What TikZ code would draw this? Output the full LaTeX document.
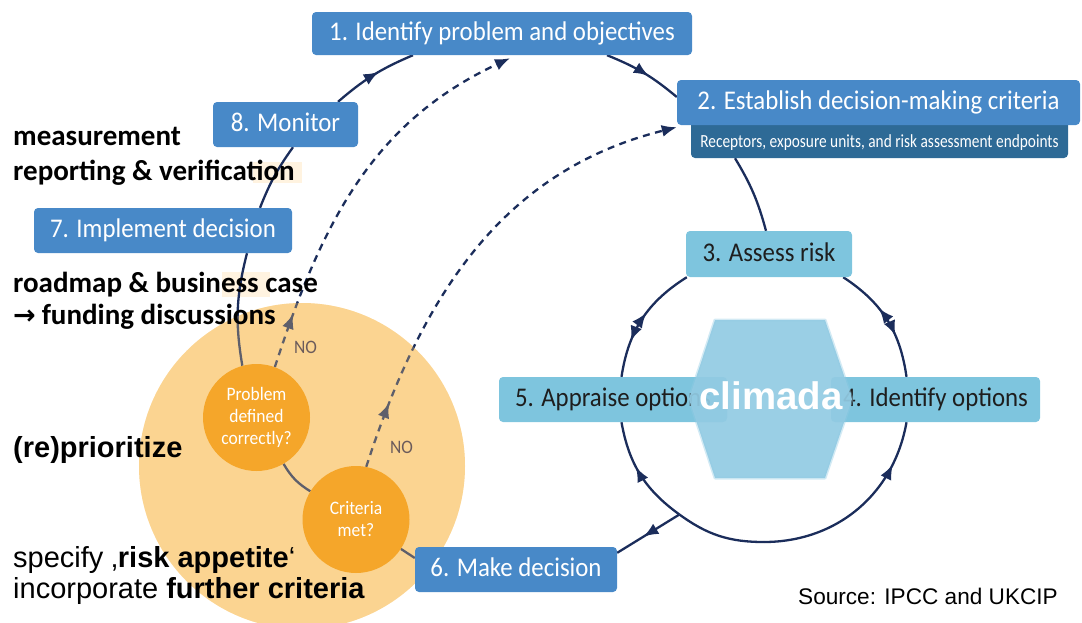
\documentclass[tikz,border=0pt]{standalone}
\usepackage{fontspec}
\setmainfont{Liberation Sans}
\newfontfamily\boxf[FakeStretch=0.92]{Carlito}
\newfontfamily\subf[FakeStretch=0.83]{Carlito}
\newfontfamily\calib{Carlito}
\newfontfamily\dejavu{DejaVu Sans}
\usetikzlibrary{arrows.meta,decorations.markings}
\pgfdeclarelayer{bg}
\pgfdeclarelayer{lines}
\pgfsetlayers{bg,lines,main}
\definecolor{boxblue}{HTML}{4889C8}
\definecolor{subblue}{HTML}{2E6A96}
\definecolor{lightblue}{HTML}{7EC5DE}
\definecolor{hexblue}{HTML}{92CBE3}
\definecolor{navy}{HTML}{1B2D5B}
\definecolor{orangepale}{HTML}{FBD491}
\definecolor{orangedark}{HTML}{F5A62A}
\definecolor{nocol}{HTML}{6B5B5B}
\definecolor{hlcol}{HTML}{FFF3E0}
\definecolor{darktext}{HTML}{1E1E1E}
\tikzset{
  >={Latex[length=15pt,width=12pt]},
  basebox/.style={draw=none, rounded corners=4pt, inner sep=0pt,
    font=\boxf\fontsize{27}{30}\selectfont, text height=19pt, text depth=5pt},
  bluebox/.style={basebox, fill=boxblue, text=white},
  lightbox/.style={basebox, fill=lightblue, text=darktext},
  subbox/.style={draw=none, rounded corners=4pt, inner sep=0pt, fill=subblue, text=white,
    font=\subf\fontsize{18.5}{20}\selectfont, text height=24pt, text depth=5pt},
  qcircle/.style={circle, fill=orangedark, text=white, inner sep=0pt, minimum size=107pt,
    align=center, font=\boxf\fontsize{19}{22}\selectfont},
  nolabel/.style={text=nocol, inner sep=0pt, font=\boxf\fontsize{19}{22}\selectfont},
  lefttext/.style={anchor=base west, inner sep=0pt, text=black},
  navyline/.style={draw=navy, line width=2.3pt},
  dashline/.style={navyline, dash pattern=on 7pt off 5.5pt},
  midarrow/.style={postaction={decorate, decoration={markings,
    mark=at position #1 with {\arrow{>}}}}},
  twoarrows/.style 2 args={postaction={decorate, decoration={markings,
    mark=at position #1 with {\arrowreversed{>}},
    mark=at position #2 with {\arrow{>}}}}}
}
\begin{document}
\begin{tikzpicture}[x=1pt,y=1pt]
\useasboundingbox (0,0) rectangle (1082,-622);

% orange overlay (tints the lines beneath it)
\fill[orangepale, opacity=0.3] (302,-466) circle (163);

% boxes of the outer cycle
\node[subbox, minimum width=377pt, minimum height=40pt] (sub) at (879.5,-138)
  {Receptors, exposure units, and risk assessment endpoints};
\node[bluebox, minimum width=380pt, minimum height=43pt] (box1) at (502,-33.5)
  {1. Identify problem and objectives};
\node[bluebox, minimum width=403pt, minimum height=45pt] (box2) at (878.5,-102.5)
  {2. Establish decision-making criteria};
\node[bluebox, minimum width=145pt, minimum height=45pt] (box8) at (285.5,-124.5)
  {8. Monitor};
\node[bluebox, minimum width=258pt, minimum height=45pt] (box7) at (163,-230.5)
  {7. Implement decision};
\node[bluebox, minimum width=202pt, minimum height=45pt] (box6) at (516,-569.5)
  {6. Make decision};

% inner loop boxes
\node[lightbox, minimum width=166pt, minimum height=46pt] (box3) at (769,-254)
  {3. Assess risk};
\node[lightbox, minimum width=228pt, minimum height=45pt] (box5) at (613,-399.5)
  {5. Appraise options};
\node[lightbox, minimum width=209pt, minimum height=45pt] (box4) at (935.5,-399.5)
  {4. Identify options};

% hexagon and climada
\draw[hexblue, line width=3pt, opacity=0.4, line join=round]
  (715,-320) -- (825,-320) -- (852,-399) -- (825,-478) -- (715,-478) -- (689,-399) -- cycle;
\fill[hexblue, fill opacity=0.93]
  (715,-320) -- (825,-320) -- (852,-399) -- (825,-478) -- (715,-478) -- (689,-399) -- cycle;
\node[anchor=base, inner sep=0pt, text=white,
  font=\bfseries\fontsize{38.4}{40}\selectfont] (climada) at (771,-409) {climada};

% decision circles
\node[qcircle] (prob) at (256.5,-417.5) {Problem\\defined\\correctly?};
\node[qcircle] (crit) at (356,-519.5) {Criteria\\met?};

\node[nolabel] (no1) at (305.5,-347) {NO};
\node[nolabel] (no2) at (401.5,-447) {NO};

% coordinates on the inner loop
\coordinate (junc) at (679.4,-514.5);
\coordinate (lbot) at (764,-542);

% left-hand texts
\node[lefttext, font=\calib\bfseries\fontsize{29}{34}\selectfont] (t1) at (13,-145) {measurement};
\node[lefttext, font=\calib\bfseries\fontsize{29}{34}\selectfont] (t2) at (13,-180) {reporting \& verification};
\node[lefttext, font=\calib\bfseries\fontsize{29}{34}\selectfont] (t3) at (13,-292) {roadmap \& business case};
\node[lefttext, font=\calib\bfseries\fontsize{29}{34}\selectfont] (t4) at (13,-324)
  {{\dejavu\bfseries\fontsize{27}{28}\selectfont →}\hspace{6pt}funding discussions};
\node[lefttext, font=\bfseries\fontsize{29}{34}\selectfont] (t5) at (13,-457) {(re)prioritize};
\node[lefttext, font=\fontsize{29}{34}\selectfont] (t6) at (13,-567)
  {specify ‚\textbf{risk appetite}‘};
\node[lefttext, font=\fontsize{29}{34}\selectfont] (t7) at (13,-598)
  {incorporate \textbf{further criteria}};
\node[lefttext, font=\fontsize{22.6}{26}\selectfont] (src) at (798,-604)
  {Source: IPCC and UKCIP};

% connectors
\begin{pgfonlayer}{lines}
\draw[navyline, midarrow=0.57] ([xshift=52.5pt]box8.north) to[bend left=9] ([xshift=-89pt]box1.south);
\draw[navyline, midarrow=0.57] ([xshift=105pt]box1.south) to[bend left=9] ([yshift=5.5pt]box2.west);
\draw[navyline] ([xshift=-144.5pt]sub.south) to[bend left=8] ([xshift=-3pt]box3.north);
\draw[navyline] ([xshift=7.5pt]box8.south) to[bend right=7] ([xshift=97pt]box7.north);
\draw[navyline] ([xshift=84pt]box7.south) to[bend right=12] (prob);
\draw[navyline] (prob) to[bend right=14] (crit);
\draw[navyline] (crit) -- ([yshift=11.5pt]box6.west);

\draw[navyline, twoarrows={0.44}{0.70}] ([xshift=1pt]box3.south west) to[bend right=24.6] ([xshift=8.5pt]box5.north);
\draw[navyline, twoarrows={0.39}{0.65}] ([xshift=-9pt]box3.south east) to[bend left=24.4] ([xshift=-29pt]box4.north);
\draw[navyline, midarrow=0.58] (junc) to[bend left=22] ([xshift=8.5pt]box5.south);
\draw[navyline] (junc) to[bend right=18] (lbot);
\draw[navyline, midarrow=0.78] (lbot) to[bend right=40] ([xshift=-29pt]box4.south);
\draw[navyline, midarrow=0.58] (junc) -- ([yshift=-6pt]box6.north east);

\draw[dashline, midarrow=0.14, ->] (prob.70) to[out=72,in=205] ([xshift=8pt,yshift=-3pt]box1.south);
\draw[dashline, midarrow=0.14, ->] (crit.79) to[out=72,in=194] ([yshift=-2pt]box2.south west);
\end{pgfonlayer}

% background: orange disc and faint highlights
\begin{pgfonlayer}{bg}
\fill[hlcol] (253,-162) rectangle (302,-183);
\fill[hlcol] (222,-272) rectangle (270,-297);
\fill[orangepale] (302,-466) circle (163);
\end{pgfonlayer}
\end{tikzpicture}
\end{document}
